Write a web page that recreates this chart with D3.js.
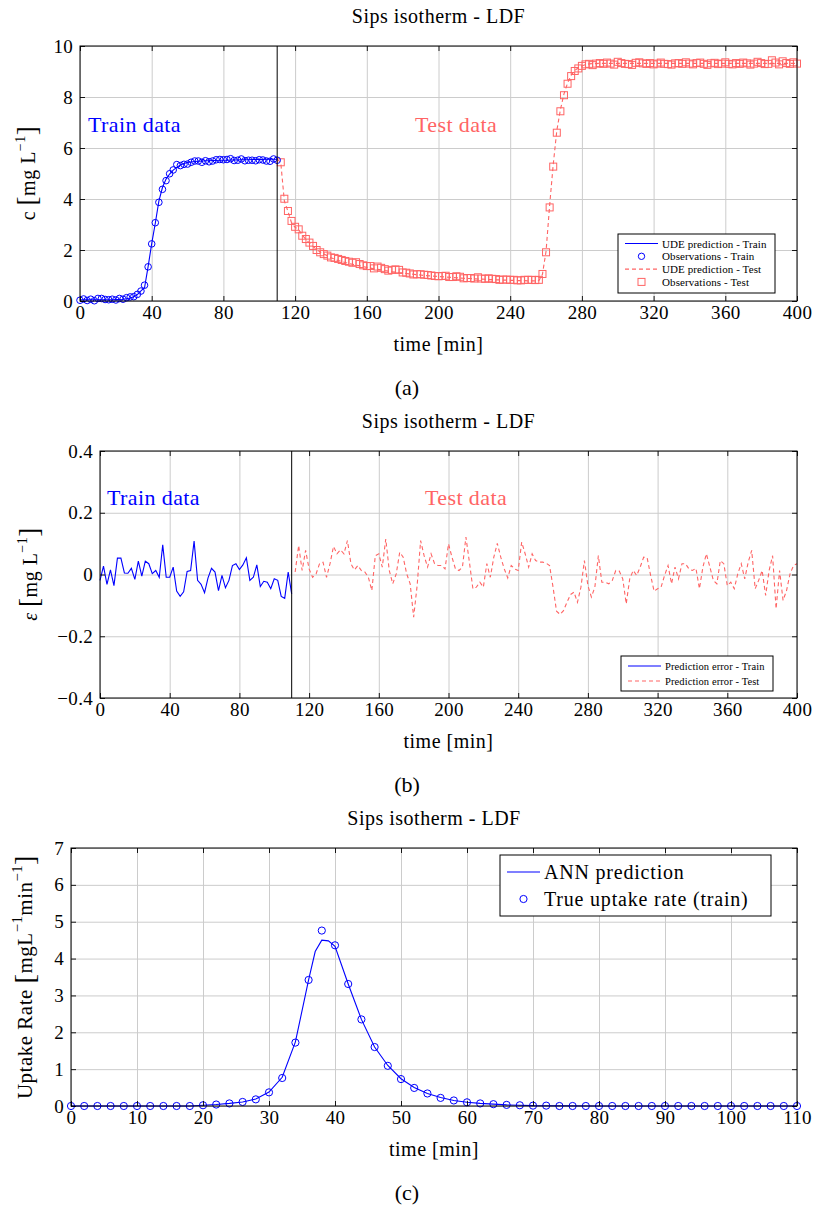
<!DOCTYPE html>
<html><head><meta charset="utf-8">
<script src="https://cdn.jsdelivr.net/npm/d3@7"></script>
<style>
body{margin:0;background:#fff}
svg{display:block}
svg text{font-family:"Liberation Serif","DejaVu Serif",serif !important;}
</style>
</head><body>
<svg id="chart" width="814" height="1212"></svg>
<script>
// ---------------- DATA ----------------
// Panel (a): concentration
const trainTime = d3.range(0, 111, 2);
const trainObs = [0.03,0.08,0.02,0.07,0.01,0.10,0.10,0.06,0.05,0.07,
  0.04,0.10,0.07,0.13,0.16,0.17,0.26,0.39,0.62,1.34,
  2.24,3.07,3.87,4.38,4.72,4.99,5.14,5.35,5.31,5.36,
  5.37,5.44,5.49,5.49,5.44,5.50,5.46,5.49,5.54,5.55,
  5.54,5.55,5.58,5.51,5.52,5.57,5.50,5.52,5.52,5.50,
  5.54,5.53,5.49,5.48,5.57,5.52];
const trainPred = [0.05,0.05,0.05,0.05,0.05,0.05,0.05,0.05,0.05,0.05,
  0.06,0.06,0.07,0.09,0.12,0.17,0.25,0.40,0.52,1.35,
  2.25,3.05,3.92,4.45,4.78,4.98,5.13,5.24,5.33,5.39,
  5.43,5.45,5.47,5.48,5.49,5.50,5.50,5.51,5.51,5.52,
  5.52,5.52,5.53,5.53,5.53,5.54,5.54,5.54,5.55,5.55,
  5.55,5.55,5.56,5.56,5.56,5.56];
const testTime = d3.range(112, 401, 2);
const testObs = [5.44,4.01,3.53,3.14,2.91,2.81,2.56,2.43,2.29,2.16,
  2.00,1.91,1.84,1.78,1.71,1.69,1.65,1.61,1.57,1.54,
  1.50,1.52,1.45,1.40,1.37,1.37,1.28,1.35,1.30,1.25,
  1.19,1.22,1.24,1.22,1.12,1.11,1.08,1.04,1.05,1.05,
  1.03,1.02,1.00,0.98,0.97,0.98,0.99,0.94,0.94,0.97,
  0.95,0.89,0.90,0.90,0.88,0.93,0.88,0.87,0.89,0.87,
  0.86,0.83,0.84,0.84,0.83,0.83,0.81,0.81,0.83,0.83,
  0.83,0.82,0.83,1.06,1.91,3.67,5.27,6.60,7.44,8.07,
  8.52,8.82,9.02,9.12,9.22,9.28,9.30,9.25,9.31,9.33,
  9.30,9.35,9.31,9.27,9.38,9.33,9.30,9.29,9.26,9.34,
  9.36,9.32,9.30,9.33,9.28,9.31,9.35,9.30,9.29,9.27,
  9.32,9.33,9.30,9.36,9.31,9.28,9.33,9.35,9.30,9.26,
  9.32,9.34,9.29,9.31,9.36,9.30,9.28,9.33,9.30,9.35,
  9.32,9.27,9.31,9.38,9.33,9.29,9.30,9.44,9.35,9.28,
  9.40,9.33,9.30,9.36,9.31];
const testPredTime = d3.range(110, 401, 2);
const testPred = [5.56,5.43,3.92,3.52,3.07,2.89,2.80,2.58,2.42,2.27,
  2.14,2.02,1.92,1.84,1.77,1.70,1.64,1.59,1.55,1.51,
  1.47,1.44,1.41,1.38,1.35,1.32,1.29,1.26,1.24,1.22,
  1.19,1.17,1.15,1.13,1.11,1.10,1.08,1.06,1.05,1.03,
  1.02,1.00,0.99,0.98,0.97,0.96,0.95,0.94,0.93,0.92,
  0.91,0.90,0.89,0.88,0.88,0.87,0.86,0.86,0.85,0.84,
  0.84,0.83,0.83,0.82,0.82,0.81,0.81,0.80,0.80,0.80,
  0.79,0.79,0.79,0.80,1.05,1.95,3.75,5.35,6.68,7.50,
  8.12,8.55,8.85,9.04,9.15,9.22,9.27,9.30,9.31,9.31,
  9.32,9.32,9.32,9.32,9.32,9.32,9.32,9.32,9.32,9.32,
  9.32,9.32,9.32,9.32,9.32,9.32,9.32,9.32,9.32,9.32,
  9.32,9.32,9.32,9.32,9.32,9.32,9.32,9.32,9.32,9.32,
  9.32,9.32,9.32,9.32,9.32,9.32,9.32,9.32,9.32,9.32,
  9.32,9.32,9.32,9.32,9.32,9.32,9.32,9.32,9.32,9.32,
  9.32,9.32,9.32,9.32,9.32,9.32];

// Panel (b): prediction error
const trainErr = [-0.019,0.027,-0.032,0.015,-0.036,0.053,0.053,0.005,0.004,0.020,
  -0.016,0.043,-0.005,0.043,0.035,0.003,0.013,-0.009,0.096,-0.009,
  -0.009,0.024,-0.054,-0.071,-0.056,0.010,0.013,0.108,-0.019,-0.032,
  -0.059,-0.011,0.020,0.008,-0.052,-0.003,-0.043,-0.019,0.029,0.035,
  0.016,0.031,0.054,-0.019,-0.009,0.031,-0.039,-0.022,-0.025,-0.046,
  -0.014,-0.019,-0.071,-0.077,0.008,-0.063];
const testErr = [0.008,0.094,0.013,0.078,0.018,-0.009,0.002,0.035,0.040,-0.009,
  0.035,0.091,0.067,0.080,0.067,0.110,0.035,0.015,0.029,0.013,
  0.008,-0.009,-0.052,0.061,0.067,0.024,0.115,0.013,-0.030,0.002,
  0.072,0.056,0.002,-0.030,-0.138,-0.036,0.110,0.061,0.024,0.067,
  0.035,0.029,0.029,0.018,0.099,0.056,0.018,0.013,0.024,0.121,
  0.040,-0.046,-0.041,-0.025,-0.041,0.035,-0.009,0.056,0.101,0.056,
  0.018,-0.011,0.029,0.018,0.013,0.105,0.067,0.024,0.067,0.045,
  0.040,0.040,0.037,0.029,-0.041,-0.119,-0.129,-0.117,-0.090,-0.065,
  -0.057,-0.090,-0.041,0.045,-0.036,-0.073,-0.041,0.061,-0.025,-0.025,
  -0.030,-0.019,0.013,0.011,-0.014,-0.095,-0.014,0.013,-0.003,0.024,
  0.056,0.054,-0.003,-0.054,-0.046,-0.041,-0.003,0.029,-0.030,0.024,
  -0.014,0.035,0.035,0.018,0.013,0.020,-0.046,0.024,0.067,0.024,
  -0.019,-0.030,0.045,0.035,-0.036,-0.025,-0.046,0.002,0.035,-0.014,
  0.040,0.078,-0.046,-0.019,0.013,-0.068,0.013,0.061,-0.111,0.013,
  -0.084,-0.052,0.002,0.029,0.035];

// Panel (c): uptake rate
const rateTime = d3.range(0, 111, 2);
const rateTrue = [0,0,0,0,0,0,0,0,0,0,
  0.02,0.04,0.07,0.11,0.18,0.37,0.76,1.72,3.42,4.76,
  4.36,3.31,2.35,1.60,1.09,0.73,0.49,0.34,0.22,0.15,
  0.10,0.07,0.05,0.03,0.02,0.01,0.01,0,0,0,
  0,0,0,0,0,0,0,0,0,0,
  0,0,0,0,0,0];
const annTime = [0,2,4,6,8,10,12,14,16,18,20,22,24,26,28,30,32,34,36,37,38,39,40,42,44,46,48,50,52,54,56,58,60,62,64,66,68,70,80,90,100,110];
const annRate = [0,0,0,0,0,0,0,0,0,0,0.02,0.04,0.07,0.11,0.19,0.38,0.78,1.74,3.42,4.19,4.50,4.48,4.33,3.31,2.35,1.60,1.10,0.74,0.50,0.34,0.23,0.15,0.10,0.07,0.05,0.03,0.02,0.01,0,0,0,0];

// Ticks
const xTicksAB = [0,40,80,120,160,200,240,280,320,360,400];
const yTicksA = [0,2,4,6,8,10];
const yTicksB = [-0.4,-0.2,0,0.2,0.4];
const xTicksC = [0,10,20,30,40,50,60,70,80,90,100,110];
const yTicksC = [0,1,2,3,4,5,6,7];

// ---------------- DRAWING ----------------
const BLUE = "#0000ff", RED = "#ff6464", GRID = "#cccccc";
const svg = d3.select("#chart");

function setupPanel(cfg){
  const g = svg.append("g");
  const x = d3.scaleLinear().domain(cfg.xd).range([cfg.l, cfg.r]);
  const y = d3.scaleLinear().domain(cfg.yd).range([cfg.b, cfg.t]);
  const gx = g.append("g").attr("transform", `translate(0,${cfg.b})`)
    .call(d3.axisBottom(x).tickValues(cfg.xt).tickSize(-(cfg.b - cfg.t)).tickFormat(""));
  const gy = g.append("g").attr("transform", `translate(${cfg.l},0)`)
    .call(d3.axisLeft(y).tickValues(cfg.yt).tickSize(-(cfg.r - cfg.l)).tickFormat(""));
  [gx, gy].forEach(a => { a.select(".domain").remove(); a.selectAll("line").attr("stroke", GRID).attr("stroke-width", 1); });
  const data = svg.append("g");
  return {g, x, y, data, cfg};
}

function finishPanel(p, yFmt){
  const {x, y, cfg} = p;
  const g = svg.append("g");
  const styleAxis = a => {
    a.select(".domain").remove();
    a.selectAll("line").attr("stroke", "#000").attr("stroke-width", 0.9);
    a.selectAll("text").attr("font-size", 19).attr("fill", "#000").attr("letter-spacing", 0.3);
  };
  g.append("g").attr("transform", `translate(0,${cfg.b})`)
    .call(d3.axisBottom(x).tickValues(cfg.xt).tickSizeInner(-5).tickSizeOuter(0).tickPadding(5).tickFormat(d3.format("d")))
    .call(styleAxis);
  g.append("g").attr("transform", `translate(0,${cfg.t})`)
    .call(d3.axisTop(x).tickValues(cfg.xt).tickSizeInner(-5).tickSizeOuter(0).tickFormat(""))
    .call(styleAxis);
  g.append("g").attr("transform", `translate(${cfg.l},0)`)
    .call(d3.axisLeft(y).tickValues(cfg.yt).tickSizeInner(-5).tickSizeOuter(0).tickPadding(7).tickFormat(yFmt))
    .call(styleAxis);
  g.append("g").attr("transform", `translate(${cfg.r},0)`)
    .call(d3.axisRight(y).tickValues(cfg.yt).tickSizeInner(-5).tickSizeOuter(0).tickFormat(""))
    .call(styleAxis);
  g.append("rect").attr("x", cfg.l).attr("y", cfg.t).attr("width", cfg.r - cfg.l).attr("height", cfg.b - cfg.t)
    .attr("fill", "none").attr("stroke", "#000").attr("stroke-width", 1);
  svg.append("text").attr("x", (cfg.l + cfg.r) / 2).attr("y", cfg.t - 23).attr("text-anchor", "middle")
    .attr("font-size", 20).attr("letter-spacing", 0.5).text("Sips isotherm - LDF");
  svg.append("text").attr("x", (cfg.l + cfg.r) / 2).attr("y", cfg.b + 50).attr("text-anchor", "middle")
    .attr("font-size", 20).attr("letter-spacing", 0.5).text("time [min]");
  svg.append("text").attr("x", 407).attr("y", cfg.b + 94).attr("text-anchor", "middle")
    .attr("font-size", 22).text(cfg.cap);
}

function yLabel(cx, cy, parts, fs){
  const t = svg.append("text").attr("transform", `translate(${cx},${cy}) rotate(-90)`)
    .attr("text-anchor", "middle").attr("font-size", fs).attr("letter-spacing", 0.5).attr("dominant-baseline", "middle");
  let shift = 0;
  parts.forEach(pt => {
    const s = t.append("tspan").text(pt.t);
    if (pt.sup) { s.attr("font-size", fs * 0.7).attr("dy", -8); shift = 8; }
    else if (shift) { s.attr("dy", shift); shift = 0; }
    if (pt.big) s.attr("font-size", fs * 1.35);
    if (pt.it) s.attr("font-style", "italic");
  });
}

function circles(p, xs, ys, r){
  p.data.append("g").selectAll("circle").data(xs).join("circle")
    .attr("cx", (d) => p.x(d)).attr("cy", (d, i) => p.y(ys[i])).attr("r", r)
    .attr("fill", "none").attr("stroke", BLUE).attr("stroke-width", 1);
}
function squares(p, xs, ys, s){
  p.data.append("g").selectAll("rect").data(xs).join("rect")
    .attr("x", d => p.x(d) - s / 2).attr("y", (d, i) => p.y(ys[i]) - s / 2)
    .attr("width", s).attr("height", s)
    .attr("fill", "none").attr("stroke", RED).attr("stroke-width", 1);
}
function line(p, xs, ys, color, dash, w){
  const ln = d3.line().x(d => p.x(d[0])).y(d => p.y(d[1]));
  p.data.append("path").datum(xs.map((d, i) => [d, ys[i]])).attr("d", ln)
    .attr("fill", "none").attr("stroke", color).attr("stroke-width", w || 1.1)
    .attr("stroke-dasharray", dash || null);
}
function vline(p, t){
  p.data.append("line").attr("x1", p.x(t)).attr("x2", p.x(t)).attr("y1", p.cfg.t).attr("y2", p.cfg.b)
    .attr("stroke", "#000").attr("stroke-width", 1);
}
function legend(x0, y0, w, h, rows, fs, sampleW, rowH, padTop, ls){
  const g = svg.append("g");
  g.append("rect").attr("x", x0).attr("y", y0).attr("width", w).attr("height", h)
    .attr("fill", "#fff").attr("stroke", "#000").attr("stroke-width", 1);
  rows.forEach((r, i) => {
    const cy = y0 + padTop + i * rowH;
    const sx = x0 + 7;
    if (r.type === "line") {
      g.append("line").attr("x1", sx).attr("x2", sx + sampleW).attr("y1", cy).attr("y2", cy)
        .attr("stroke", r.color).attr("stroke-width", 1.2).attr("stroke-dasharray", r.dash || null);
    } else if (r.type === "circle") {
      g.append("circle").attr("cx", sx + sampleW / 2).attr("cy", cy).attr("r", r.r)
        .attr("fill", "none").attr("stroke", r.color);
    } else {
      g.append("rect").attr("x", sx + sampleW / 2 - r.r).attr("y", cy - r.r).attr("width", 2 * r.r).attr("height", 2 * r.r)
        .attr("fill", "none").attr("stroke", r.color);
    }
    g.append("text").attr("x", sx + sampleW + 4).attr("y", cy).attr("dominant-baseline", "central")
      .attr("font-size", fs).attr("letter-spacing", ls || 0).text(r.label);
  });
}

// ---- Panel (a)
const A = setupPanel({l: 80, r: 797, t: 46, b: 301, xd: [0, 400], yd: [0, 10], xt: xTicksAB, yt: yTicksA, cap: "(a)"});
line(A, testPredTime, testPred, RED, "4,3");
squares(A, testTime, testObs, 7);
line(A, trainTime, trainPred, BLUE, null);
circles(A, trainTime, trainObs, 3.3);
vline(A, 110);
A.data.append("text").attr("x", 88).attr("y", 132).attr("font-size", 22).attr("letter-spacing", 0.4).attr("fill", BLUE).text("Train data");
A.data.append("text").attr("x", 415).attr("y", 132).attr("font-size", 22).attr("letter-spacing", 0.4).attr("fill", RED).text("Test data");
finishPanel(A, d3.format("d"));
yLabel(30, 173, [{t: "c "}, {t: "[", big: true}, {t: "mg L"}, {t: "−1", sup: true}, {t: "]", big: true}], 20);
legend(618, 234, 157, 59, [
  {type: "line", color: BLUE, label: "UDE prediction - Train"},
  {type: "circle", color: BLUE, r: 3.2, label: "Observations - Train"},
  {type: "line", color: RED, dash: "4,3", label: "UDE prediction - Test"},
  {type: "rect", color: RED, r: 3.5, label: "Observations - Test"}
], 11, 33, 12.8, 9.5, 0.1);

// ---- Panel (b)
const B = setupPanel({l: 100, r: 797, t: 451, b: 698, xd: [0, 400], yd: [-0.4, 0.4], xt: xTicksAB, yt: yTicksB, cap: "(b)"});
line(B, trainTime, trainErr, BLUE, null);
line(B, testTime, testErr, RED, "4,3");
vline(B, 110);
B.data.append("text").attr("x", 107).attr("y", 505).attr("font-size", 22).attr("letter-spacing", 0.4).attr("fill", BLUE).text("Train data");
B.data.append("text").attr("x", 425).attr("y", 505).attr("font-size", 22).attr("letter-spacing", 0.4).attr("fill", RED).text("Test data");
finishPanel(B, d => d === 0 ? "0" : d3.format(".1f")(d));
yLabel(32, 574, [{t: "ε", it: true}, {t: " "}, {t: "[", big: true}, {t: "mg L"}, {t: "−1", sup: true}, {t: "]", big: true}], 20);
legend(621, 656, 152, 35, [
  {type: "line", color: BLUE, label: "Prediction error - Train"},
  {type: "line", color: RED, dash: "4,3", label: "Prediction error - Test"}
], 10.5, 33, 15, 10, 0.1);

// ---- Panel (c)
const C = setupPanel({l: 71, r: 797, t: 848, b: 1106, xd: [0, 110], yd: [0, 7], xt: xTicksC, yt: yTicksC, cap: "(c)"});
line(C, annTime, annRate, BLUE, null);
circles(C, rateTime, rateTrue, 3.6);
finishPanel(C, d3.format("d"));
yLabel(27, 977, [{t: "Uptake Rate "}, {t: "[", big: true}, {t: "mgL"}, {t: "−1", sup: true}, {t: "min"}, {t: "−1", sup: true}, {t: "]", big: true}], 21);
legend(500, 855, 271, 61, [
  {type: "line", color: BLUE, label: "ANN prediction"},
  {type: "circle", color: BLUE, r: 3.6, label: "True uptake rate (train)"}
], 20, 33, 27, 17, 0.8);
</script>
</body></html>
